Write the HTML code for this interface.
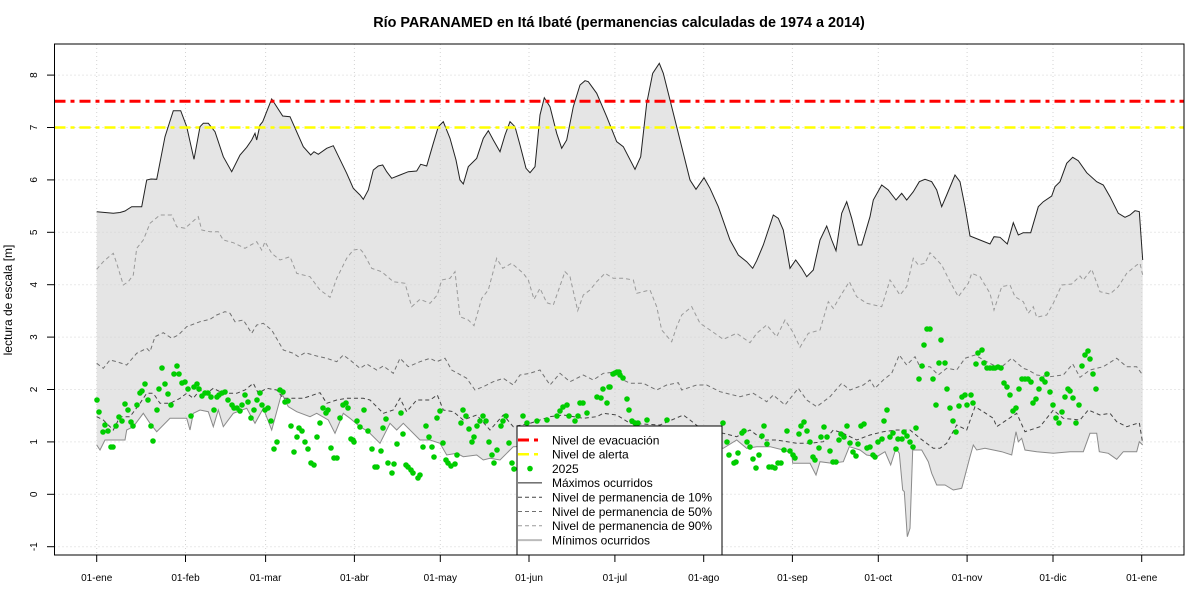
<!DOCTYPE html>
<html><head><meta charset="utf-8"><style>
html,body{margin:0;padding:0;background:#fff;}
svg{display:block;font-family:"Liberation Sans",Arial,sans-serif;}
</style></head><body>
<svg width="1200" height="600" viewBox="0 0 1200 600" xmlns="http://www.w3.org/2000/svg">
<rect width="1200" height="600" fill="#fff"/>
<text x="619" y="27" text-anchor="middle" font-size="14.4" font-weight="bold">Río PARANAMED en Itá Ibaté (permanencias calculadas de 1974 a 2014)</text>

<!-- fill -->
<polygon fill="#e5e5e5" stroke="none" points="96.7,211.7 113.3,213.3 120,212.5 125,211 131.7,206.7 141.7,206.7 146.7,180 151,179 156.7,179.3 165,136.7 173.3,110.7 180.7,110.7 186.7,126.7 194,159.3 200,126.7 203.3,123.3 208.3,123.3 215,131.7 223.3,156.7 231.7,171.7 240,155 246.7,147.3 251.7,140 255,133.3 256.7,140 260,125 262.7,121.7 271.7,99 282.7,116 290,116.7 303.3,146.7 310.7,155 314,151.7 318.3,154.3 326.7,148.3 333.3,145.7 346.7,173.3 353.3,188.3 360,195 363.3,199.3 368.3,190 373.3,170 378.3,166 382.7,165 386.7,171.7 391.7,178.3 400,175 408.3,171.7 416.7,171 420.7,164.3 426.7,166 433.3,143.3 438.3,126.7 443.3,121.7 450,138.3 456,160 460,180 463.3,184 468.3,166.7 476.7,158.3 483.3,138.3 488.3,130.7 493.3,140 500,151.7 505,135 510,121.7 515,126.7 520,145 526,168.3 530,172.7 535,166.7 540,115 544.3,97.7 550,106.7 556.7,133.3 561.7,148.3 566.7,140 573.3,106.7 580,85 585,80.7 588.3,81.7 596.7,93.3 606.7,116.7 616.7,141.7 623.3,146.7 635,169.3 640.7,156.7 646.7,103.3 652.7,73.3 659.3,63.3 663.3,73.3 670,100 681.7,146.7 690,180 696,189.3 704,177.7 710,188.3 718.3,206.7 730,240 738.3,255 746.7,261.7 752.7,268.3 756.7,260.7 763.3,245 773.3,215 778.3,218.3 783.3,230 790,268.3 795.7,260 801.7,268.3 806.7,276.7 813.3,270 820,240 826.7,226 831.7,240 836,250.7 841.7,213.3 846.7,201.7 851.7,218.3 858.3,245 861.7,245 870,216.7 873.3,200 881.7,185 888.3,190 896,200 901.7,193.3 906.7,200 913.3,191.7 919.3,181.7 925,179.3 931.7,181.7 936.7,190 941.7,206.7 946.7,195 955,175 960,181.7 965,206.7 970,236 980,240 990,244 994,236.7 1000,237.3 1007.3,244 1013.3,222.7 1018.3,235 1023.3,232.7 1030.7,232.7 1038.3,206.7 1043.3,201.7 1051.7,196 1055,186.7 1060,181.7 1066.7,163.3 1072.7,157.3 1078.3,160.7 1086.7,172.7 1096.7,181.7 1103.3,185 1110,196.7 1118.3,213.3 1125,217.3 1130,215 1135,210.7 1139.3,211.7 1142.7,260 1142.7,445 1139.3,441.7 1136.7,451.7 1123.3,451.7 1116.7,459.3 1108.3,453.3 1099.3,451.7 1096.7,433.3 1090,433.3 1083.3,451.7 1070,451.7 1053.3,453.3 1036.7,451.7 1025,450 1021.7,438.3 1018.3,441.7 1016,431.7 1011.7,455 1001.7,451.7 985,448.3 976.7,450 973.3,445 970,456.7 961.7,488.3 953.3,490 945,485 936.7,485 931.7,473.3 928.3,461.7 921.7,450 912.7,450 910,528.3 907.3,536.7 904.3,491.7 902.7,490 899.3,453.3 896,448.3 890.7,465 885,451.7 876.7,456.7 866.7,455 860,450 849.3,446.7 843.3,461.7 831.7,463.3 820,461.7 816,475 810,463.3 792.7,463.3 791.7,453.3 783.3,450 770,446.7 756.7,446.7 746.7,448.3 736.7,440 723.3,448.3 680,445 620,445 560,445 513.3,446.7 506.7,453.3 500,460 490,458.3 483.3,460 476.7,455 463.3,456.7 456.7,453.3 446.7,455 440,443.3 430,440 420,440 403.3,423.3 396.7,430 390,423.3 380,443.3 368.3,431.7 360,426.7 350,418.3 343.3,413.3 335,433.3 328.3,420 316.7,413.3 310,416.7 296.7,411.7 288.3,406.7 281.7,393.3 271.7,430 263.3,408.3 255,423.3 246.7,408.3 233.3,413.3 223.3,426.7 218.3,410 213.3,426.7 208.3,411.7 200,410 193.3,413.3 190,430 186.7,418.3 178.3,418.3 170,418.3 156.7,431.7 150,423.3 143.3,413.3 133.3,426.7 126.7,430 125,440 113.3,440 105,440 100,450 96.7,445"/>

<!-- grid -->
<g stroke="#d3d3d3" stroke-width="1" stroke-dasharray="1 3" fill="none">
<line x1="54.5" x2="1184" y1="546.7" y2="546.7"/>
<line x1="54.5" x2="1184" y1="494.3" y2="494.3"/>
<line x1="54.5" x2="1184" y1="441.9" y2="441.9"/>
<line x1="54.5" x2="1184" y1="389.5" y2="389.5"/>
<line x1="54.5" x2="1184" y1="337.1" y2="337.1"/>
<line x1="54.5" x2="1184" y1="284.7" y2="284.7"/>
<line x1="54.5" x2="1184" y1="232.3" y2="232.3"/>
<line x1="54.5" x2="1184" y1="179.9" y2="179.9"/>
<line x1="54.5" x2="1184" y1="127.5" y2="127.5"/>
<line x1="54.5" x2="1184" y1="75.1" y2="75.1"/>
<line y1="44" y2="555" x1="96.7" x2="96.7"/>
<line y1="44" y2="555" x1="185.5" x2="185.5"/>
<line y1="44" y2="555" x1="265.6" x2="265.6"/>
<line y1="44" y2="555" x1="354.4" x2="354.4"/>
<line y1="44" y2="555" x1="440.3" x2="440.3"/>
<line y1="44" y2="555" x1="529" x2="529"/>
<line y1="44" y2="555" x1="614.9" x2="614.9"/>
<line y1="44" y2="555" x1="703.7" x2="703.7"/>
<line y1="44" y2="555" x1="792.4" x2="792.4"/>
<line y1="44" y2="555" x1="878.3" x2="878.3"/>
<line y1="44" y2="555" x1="967.1" x2="967.1"/>
<line y1="44" y2="555" x1="1053" x2="1053"/>
<line y1="44" y2="555" x1="1141.7" x2="1141.7"/>
</g>

<!-- min line -->
<polyline fill="none" stroke="#8a8a8a" stroke-width="1" points="96.7,445 100,450 105,440 113.3,440 125,440 126.7,430 133.3,426.7 143.3,413.3 150,423.3 156.7,431.7 170,418.3 178.3,418.3 186.7,418.3 190,430 193.3,413.3 200,410 208.3,411.7 213.3,426.7 218.3,410 223.3,426.7 233.3,413.3 246.7,408.3 255,423.3 263.3,408.3 271.7,430 281.7,393.3 288.3,406.7 296.7,411.7 310,416.7 316.7,413.3 328.3,420 335,433.3 343.3,413.3 350,418.3 360,426.7 368.3,431.7 380,443.3 390,423.3 396.7,430 403.3,423.3 420,440 430,440 440,443.3 446.7,455 456.7,453.3 463.3,456.7 476.7,455 483.3,460 490,458.3 500,460 506.7,453.3 513.3,446.7 560,445 620,445 680,445 723.3,448.3 736.7,440 746.7,448.3 756.7,446.7 770,446.7 783.3,450 791.7,453.3 792.7,463.3 810,463.3 816,475 820,461.7 831.7,463.3 843.3,461.7 849.3,446.7 860,450 866.7,455 876.7,456.7 885,451.7 890.7,465 896,448.3 899.3,453.3 902.7,490 904.3,491.7 907.3,536.7 910,528.3 912.7,450 921.7,450 928.3,461.7 931.7,473.3 936.7,485 945,485 953.3,490 961.7,488.3 970,456.7 973.3,445 976.7,450 985,448.3 1001.7,451.7 1011.7,455 1016,431.7 1018.3,441.7 1021.7,438.3 1025,450 1036.7,451.7 1053.3,453.3 1070,451.7 1083.3,451.7 1090,433.3 1096.7,433.3 1099.3,451.7 1108.3,453.3 1116.7,459.3 1123.3,451.7 1136.7,451.7 1139.3,441.7 1142.7,445"/>

<!-- 90% -->
<polyline fill="none" stroke="#9a9a9a" stroke-width="1" stroke-dasharray="4 3" points="96.7,269.3 103.3,261.7 108.3,257.3 113.3,253.3 116.7,263.3 123.3,285 128.3,281.7 133.3,275 136.7,248.3 143.3,240 150,223.3 160,215 171.7,215 176.7,226.7 185,228.3 198.3,216.7 201.7,230 210,231.7 218.3,231.7 223.3,240 233.3,242.7 245,248.3 256.7,241.7 261.7,250 265,241.7 271.7,253.3 280,260 290,256.7 296.7,273.3 310,276.7 320,290 330,297.3 336.7,278.3 346.7,258.3 353.3,250 360,249 363.3,252.7 371.7,268.3 381.7,271.7 393.3,281.7 405,283.3 411.7,306.7 420,299.3 430,303.3 437.3,295 441.7,280 450,278.3 455,271.7 460,316.7 468.3,320 474,325.7 481.7,298.3 488.3,290 496.7,258.3 502.7,268.3 511.7,263.3 523.3,273.3 528.3,280 534,299.3 540,288.3 546.7,302.7 553.3,305 565,271.7 570,276.7 577.7,310.7 583.3,295 590,290 596.7,281.7 605,273.3 613.3,278.3 623.3,278.3 633.3,280 636.7,293.3 650,290 656.7,306.7 661.7,330 671.7,341.7 676.7,326.7 681.7,315 691.7,306.7 700,323.3 710,330 723.3,339.3 736.7,333.3 750,342.7 756.7,333.3 766.7,325 776.7,336.7 785,320 792.7,331.7 800,347.3 808.3,333.3 820,330 828.3,301.7 833.3,308.3 840,296.7 849.3,281.7 856.7,296.7 866.7,303.3 881.7,306.7 890,280 900,295 906.7,286.7 913.3,258.3 918.3,265 925,263.3 930,252.7 941.7,265 950,281.7 958.3,296.7 968.3,283.3 971.7,273.3 980,276.7 990,293.3 994,310 1001.7,286.7 1010,285 1015,296.7 1023.3,301.7 1028.3,313.3 1033.3,306.7 1036.7,317.3 1046.7,315 1053.3,303.3 1061.7,285 1071.7,284 1080,276 1083.3,280 1091.7,269.3 1100,291.7 1110,294 1118.3,286.7 1126.7,273.3 1136.7,265 1140,263.3 1142.7,275"/>

<!-- 50% -->
<polyline fill="none" stroke="#707070" stroke-width="1" stroke-dasharray="4 3" points="96.7,363.3 103.3,368.3 110,360 116.7,361.7 126.7,365 136.7,353.3 146.7,348.3 150,351.7 155,336.7 163.3,332.7 171.7,338.3 178.3,335 186.7,326.7 200,321.7 210,319.3 216.7,315 225,311.7 230,313.3 235,321.7 243.3,320 251.7,333.3 256.7,325 263.3,323.3 271.7,330 283.3,350 293.3,353.3 298.3,356.7 305,352.7 316.7,356 326.7,358.3 336.7,361.7 343.3,355 350,360 360,368.3 366.7,364 376.7,370 383.3,366 393.3,373.3 400,358.3 408.3,366.7 420,361.7 430,358.3 436.7,361.7 445,358.3 451.7,370 466.7,378.3 475,390 483.3,386.7 493.3,381.7 503.3,378.3 513.3,385 520,375 530,373.3 540,370 550,385 560,373.3 570,381.7 583.3,375 593.3,380 603.3,373.3 616.7,372 623.3,380 630,383.3 643.3,383.3 656.7,390 666.7,385 678.3,382.7 681.7,390 696.7,385 706.7,385 720,391.7 740,396.7 753.3,393.3 766.7,401.7 773.3,395 785,405 798.3,388.3 806.7,400 816.7,406.7 830,396.7 841.7,383.3 850,390 863.3,385 870,380 875,388.3 883.3,380 891.7,373.3 899.3,355 906.7,365 915,356.7 920,366.7 930,366.7 938.3,375 946.7,368.3 956.7,370 965,358.3 975,355 986.7,361.7 1000,368.3 1011.7,358.3 1023.3,368.3 1028.3,370 1036.7,375 1050,376.7 1063.3,375 1072.7,364 1080,377.3 1090,370 1103.3,366.7 1116.7,358.3 1126.7,366.7 1136.7,366.7 1142.7,375"/>

<!-- 10% -->
<polyline fill="none" stroke="#444" stroke-width="1" stroke-dasharray="4 3" points="96.7,416.7 103.3,420 113.3,430 120,416.7 130,416.7 140,403.3 146.7,393.3 153.3,393.3 160,403.3 170,403.3 180,398.3 186.7,393.3 193.3,398.3 200,390 206.7,393.3 213.3,388.3 223.3,393.3 236.7,393.3 245,390 253.3,383.3 258.3,393.3 266.7,388.3 276.7,390 283.3,398.3 293.3,398.3 303.3,398.3 320,392.7 326.7,403.3 336.7,400 346.7,398.3 356.7,398.3 363.3,398.3 370,400 383.3,413.3 393.3,410 400,398.3 406.7,411.7 416.7,400 430,400 437.3,395 443.3,410 453.3,411.7 463.3,420 476.7,415 490,430 503.3,415 513.3,426.7 530,423.3 550,416.7 563.3,415 583.3,418.3 596.7,416.7 603.3,413.3 616.7,415 630,423.3 660,425 683.3,415 690,420 700,428 723.3,433.3 736.7,436.7 750,430 763.3,440 776.7,440 796.7,443.3 810,443.3 823.3,441.7 833.3,430 843.3,433.3 856.7,440 870,435 883.3,431.7 896.7,430 910,430 920,438.3 933.3,448.3 940,448.3 946.7,443.3 956.7,425 966.7,430 975,406.7 983.3,411.7 993.3,418.3 996.7,426.7 1006.7,420 1016.7,413.3 1025,431.7 1040,426.7 1053.3,410 1063.3,418.3 1080,420 1088.3,410 1100,415 1110,413.3 1116.7,421.7 1126.7,426.7 1139.3,422.7 1142.7,443.3"/>

<!-- max line -->
<polyline fill="none" stroke="#222" stroke-width="1" points="96.7,211.7 113.3,213.3 120,212.5 125,211 131.7,206.7 141.7,206.7 146.7,180 151,179 156.7,179.3 165,136.7 173.3,110.7 180.7,110.7 186.7,126.7 194,159.3 200,126.7 203.3,123.3 208.3,123.3 215,131.7 223.3,156.7 231.7,171.7 240,155 246.7,147.3 251.7,140 255,133.3 256.7,140 260,125 262.7,121.7 271.7,99 282.7,116 290,116.7 303.3,146.7 310.7,155 314,151.7 318.3,154.3 326.7,148.3 333.3,145.7 346.7,173.3 353.3,188.3 360,195 363.3,199.3 368.3,190 373.3,170 378.3,166 382.7,165 386.7,171.7 391.7,178.3 400,175 408.3,171.7 416.7,171 420.7,164.3 426.7,166 433.3,143.3 438.3,126.7 443.3,121.7 450,138.3 456,160 460,180 463.3,184 468.3,166.7 476.7,158.3 483.3,138.3 488.3,130.7 493.3,140 500,151.7 505,135 510,121.7 515,126.7 520,145 526,168.3 530,172.7 535,166.7 540,115 544.3,97.7 550,106.7 556.7,133.3 561.7,148.3 566.7,140 573.3,106.7 580,85 585,80.7 588.3,81.7 596.7,93.3 606.7,116.7 616.7,141.7 623.3,146.7 635,169.3 640.7,156.7 646.7,103.3 652.7,73.3 659.3,63.3 663.3,73.3 670,100 681.7,146.7 690,180 696,189.3 704,177.7 710,188.3 718.3,206.7 730,240 738.3,255 746.7,261.7 752.7,268.3 756.7,260.7 763.3,245 773.3,215 778.3,218.3 783.3,230 790,268.3 795.7,260 801.7,268.3 806.7,276.7 813.3,270 820,240 826.7,226 831.7,240 836,250.7 841.7,213.3 846.7,201.7 851.7,218.3 858.3,245 861.7,245 870,216.7 873.3,200 881.7,185 888.3,190 896,200 901.7,193.3 906.7,200 913.3,191.7 919.3,181.7 925,179.3 931.7,181.7 936.7,190 941.7,206.7 946.7,195 955,175 960,181.7 965,206.7 970,236 980,240 990,244 994,236.7 1000,237.3 1007.3,244 1013.3,222.7 1018.3,235 1023.3,232.7 1030.7,232.7 1038.3,206.7 1043.3,201.7 1051.7,196 1055,186.7 1060,181.7 1066.7,163.3 1072.7,157.3 1078.3,160.7 1086.7,172.7 1096.7,181.7 1103.3,185 1110,196.7 1118.3,213.3 1125,217.3 1130,215 1135,210.7 1139.3,211.7 1142.7,260"/>

<!-- threshold lines -->
<line x1="54.5" x2="1184" y1="101.3" y2="101.3" stroke="#ff0000" stroke-width="3" stroke-dasharray="11 5 4 5"/>
<line x1="54.5" x2="1184" y1="127.5" y2="127.5" stroke="#ffff00" stroke-width="2.5" stroke-dasharray="11 5 4 5"/>

<!-- 2025 dots -->
<g fill="#00cd00">
<circle cx="97" cy="400" r="2.8"/><circle cx="99" cy="412" r="2.8"/><circle cx="105" cy="425" r="2.8"/><circle cx="103" cy="432" r="2.8"/><circle cx="108" cy="431" r="2.8"/><circle cx="111" cy="447" r="2.8"/><circle cx="113" cy="447" r="2.8"/><circle cx="116" cy="426" r="2.8"/><circle cx="119" cy="417" r="2.8"/><circle cx="122" cy="421" r="2.8"/><circle cx="125" cy="404" r="2.8"/><circle cx="128" cy="410" r="2.8"/><circle cx="131" cy="422" r="2.8"/><circle cx="133" cy="426" r="2.8"/><circle cx="137" cy="405" r="2.8"/><circle cx="140" cy="393" r="2.8"/><circle cx="142" cy="391" r="2.8"/><circle cx="145" cy="384" r="2.8"/><circle cx="148" cy="400" r="2.8"/><circle cx="151" cy="426" r="2.8"/><circle cx="153" cy="441" r="2.8"/><circle cx="157" cy="410" r="2.8"/><circle cx="159" cy="389" r="2.8"/><circle cx="162" cy="368" r="2.8"/><circle cx="165" cy="384" r="2.8"/><circle cx="168" cy="394" r="2.8"/><circle cx="171" cy="405" r="2.8"/><circle cx="174" cy="374" r="2.8"/><circle cx="177" cy="366" r="2.8"/><circle cx="179" cy="374" r="2.8"/><circle cx="182" cy="383" r="2.8"/><circle cx="185" cy="382" r="2.8"/><circle cx="188" cy="389" r="2.8"/><circle cx="191" cy="416" r="2.8"/><circle cx="194" cy="387" r="2.8"/><circle cx="197" cy="384" r="2.8"/><circle cx="199" cy="389" r="2.8"/><circle cx="202" cy="396" r="2.8"/><circle cx="205" cy="393" r="2.8"/><circle cx="208" cy="393" r="2.8"/><circle cx="211" cy="397" r="2.8"/><circle cx="214" cy="410" r="2.8"/><circle cx="217" cy="397" r="2.8"/><circle cx="219" cy="395" r="2.8"/><circle cx="222" cy="393" r="2.8"/><circle cx="225" cy="392" r="2.8"/><circle cx="228" cy="400" r="2.8"/><circle cx="232" cy="405" r="2.8"/><circle cx="234" cy="408" r="2.8"/><circle cx="237" cy="408" r="2.8"/><circle cx="240" cy="411" r="2.8"/><circle cx="242" cy="405" r="2.8"/><circle cx="245" cy="395" r="2.8"/><circle cx="248" cy="402" r="2.8"/><circle cx="251" cy="418" r="2.8"/><circle cx="254" cy="410" r="2.8"/><circle cx="257" cy="400" r="2.8"/><circle cx="260" cy="393" r="2.8"/><circle cx="262" cy="405" r="2.8"/><circle cx="265" cy="410" r="2.8"/><circle cx="268" cy="408" r="2.8"/><circle cx="271" cy="421" r="2.8"/><circle cx="274" cy="449" r="2.8"/><circle cx="277" cy="442" r="2.8"/><circle cx="280" cy="390" r="2.8"/><circle cx="283" cy="392" r="2.8"/><circle cx="285" cy="402" r="2.8"/><circle cx="288" cy="401" r="2.8"/><circle cx="291" cy="426" r="2.8"/><circle cx="294" cy="452" r="2.8"/><circle cx="297" cy="437" r="2.8"/><circle cx="299" cy="428" r="2.8"/><circle cx="302" cy="431" r="2.8"/><circle cx="305" cy="442" r="2.8"/><circle cx="308" cy="449" r="2.8"/><circle cx="311" cy="463" r="2.8"/><circle cx="314" cy="465" r="2.8"/><circle cx="317" cy="437" r="2.8"/><circle cx="320" cy="423" r="2.8"/><circle cx="323" cy="408" r="2.8"/><circle cx="326" cy="413" r="2.8"/><circle cx="328" cy="410" r="2.8"/><circle cx="331" cy="448" r="2.8"/><circle cx="334" cy="458" r="2.8"/><circle cx="337" cy="458" r="2.8"/><circle cx="340" cy="418" r="2.8"/><circle cx="343" cy="405" r="2.8"/><circle cx="346" cy="403" r="2.8"/><circle cx="348" cy="408" r="2.8"/><circle cx="351" cy="439" r="2.8"/><circle cx="354" cy="442" r="2.8"/><circle cx="357" cy="421" r="2.8"/><circle cx="360" cy="427" r="2.8"/>
<circle cx="353" cy="440" r="2.8"/><circle cx="364" cy="410" r="2.8"/><circle cx="368" cy="431" r="2.8"/><circle cx="372" cy="449" r="2.8"/><circle cx="375" cy="467" r="2.8"/><circle cx="377" cy="467" r="2.8"/><circle cx="381" cy="451" r="2.8"/><circle cx="383" cy="428" r="2.8"/><circle cx="386" cy="419" r="2.8"/><circle cx="388" cy="463" r="2.8"/><circle cx="392" cy="473" r="2.8"/><circle cx="394" cy="464" r="2.8"/><circle cx="397" cy="444" r="2.8"/><circle cx="401" cy="413" r="2.8"/><circle cx="403" cy="434" r="2.8"/><circle cx="406" cy="465" r="2.8"/><circle cx="408" cy="467" r="2.8"/><circle cx="411" cy="470" r="2.8"/><circle cx="413" cy="473" r="2.8"/><circle cx="418" cy="478" r="2.8"/><circle cx="420" cy="475" r="2.8"/><circle cx="423" cy="447" r="2.8"/><circle cx="426" cy="426" r="2.8"/><circle cx="429" cy="437" r="2.8"/><circle cx="432" cy="447" r="2.8"/><circle cx="434" cy="457" r="2.8"/><circle cx="437" cy="418" r="2.8"/><circle cx="440" cy="411" r="2.8"/><circle cx="443" cy="443" r="2.8"/><circle cx="446" cy="460" r="2.8"/><circle cx="448" cy="463" r="2.8"/><circle cx="451" cy="466" r="2.8"/><circle cx="455" cy="464" r="2.8"/><circle cx="457" cy="455" r="2.8"/><circle cx="461" cy="423" r="2.8"/><circle cx="463" cy="410" r="2.8"/><circle cx="466" cy="416" r="2.8"/><circle cx="469" cy="429" r="2.8"/><circle cx="472" cy="442" r="2.8"/><circle cx="474" cy="437" r="2.8"/><circle cx="477" cy="426" r="2.8"/><circle cx="480" cy="421" r="2.8"/><circle cx="483" cy="416" r="2.8"/><circle cx="486" cy="421" r="2.8"/><circle cx="489" cy="442" r="2.8"/><circle cx="492" cy="455" r="2.8"/><circle cx="494" cy="463" r="2.8"/><circle cx="497" cy="450" r="2.8"/><circle cx="501" cy="426" r="2.8"/><circle cx="503" cy="421" r="2.8"/><circle cx="506" cy="416" r="2.8"/><circle cx="509" cy="443" r="2.8"/><circle cx="512" cy="463" r="2.8"/><circle cx="514" cy="469" r="2.8"/><circle cx="523" cy="416" r="2.8"/><circle cx="527" cy="423" r="2.8"/><circle cx="537" cy="421" r="2.8"/><circle cx="547" cy="420" r="2.8"/><circle cx="557" cy="416" r="2.8"/><circle cx="560" cy="411" r="2.8"/><circle cx="563" cy="407" r="2.8"/><circle cx="567" cy="405" r="2.8"/><circle cx="569" cy="416" r="2.8"/><circle cx="575" cy="421" r="2.8"/><circle cx="578" cy="416" r="2.8"/><circle cx="580" cy="403" r="2.8"/><circle cx="583" cy="403" r="2.8"/><circle cx="587" cy="413" r="2.8"/><circle cx="597" cy="397" r="2.8"/><circle cx="601" cy="398" r="2.8"/><circle cx="603" cy="389" r="2.8"/><circle cx="607" cy="403" r="2.8"/><circle cx="609" cy="387" r="2.8"/><circle cx="613" cy="374" r="2.8"/><circle cx="617" cy="372" r="2.8"/><circle cx="619" cy="372" r="2.8"/>
<circle cx="610" cy="387" r="2.8"/><circle cx="615" cy="373" r="2.8"/><circle cx="620" cy="375" r="2.8"/><circle cx="623" cy="378" r="2.8"/><circle cx="627" cy="399" r="2.8"/><circle cx="629" cy="410" r="2.8"/><circle cx="632" cy="421" r="2.8"/><circle cx="635" cy="423" r="2.8"/><circle cx="638" cy="423" r="2.8"/><circle cx="647" cy="420" r="2.8"/><circle cx="667" cy="420" r="2.8"/><circle cx="723" cy="423" r="2.8"/><circle cx="727" cy="442" r="2.8"/><circle cx="729" cy="455" r="2.8"/><circle cx="734" cy="463" r="2.8"/><circle cx="736" cy="462" r="2.8"/><circle cx="738" cy="453" r="2.8"/><circle cx="742" cy="433" r="2.8"/><circle cx="744" cy="431" r="2.8"/><circle cx="747" cy="442" r="2.8"/><circle cx="750" cy="447" r="2.8"/><circle cx="753" cy="459" r="2.8"/><circle cx="756" cy="468" r="2.8"/><circle cx="759" cy="455" r="2.8"/><circle cx="762" cy="436" r="2.8"/><circle cx="764" cy="426" r="2.8"/><circle cx="767" cy="444" r="2.8"/><circle cx="769" cy="467" r="2.8"/><circle cx="772" cy="467" r="2.8"/><circle cx="775" cy="468" r="2.8"/><circle cx="778" cy="463" r="2.8"/><circle cx="781" cy="463" r="2.8"/><circle cx="784" cy="450" r="2.8"/><circle cx="787" cy="431" r="2.8"/><circle cx="790" cy="451" r="2.8"/><circle cx="793" cy="455" r="2.8"/><circle cx="795" cy="458" r="2.8"/><circle cx="799" cy="434" r="2.8"/><circle cx="801" cy="426" r="2.8"/><circle cx="804" cy="422" r="2.8"/><circle cx="807" cy="431" r="2.8"/><circle cx="810" cy="442" r="2.8"/><circle cx="813" cy="457" r="2.8"/><circle cx="815" cy="460" r="2.8"/><circle cx="819" cy="448" r="2.8"/><circle cx="821" cy="437" r="2.8"/><circle cx="824" cy="427" r="2.8"/><circle cx="827" cy="437" r="2.8"/><circle cx="830" cy="451" r="2.8"/><circle cx="833" cy="462" r="2.8"/><circle cx="836" cy="462" r="2.8"/><circle cx="839" cy="440" r="2.8"/><circle cx="841" cy="434" r="2.8"/><circle cx="844" cy="437" r="2.8"/><circle cx="847" cy="426" r="2.8"/><circle cx="850" cy="443" r="2.8"/><circle cx="853" cy="452" r="2.8"/><circle cx="856" cy="456" r="2.8"/><circle cx="858" cy="444" r="2.8"/><circle cx="861" cy="426" r="2.8"/><circle cx="864" cy="424" r="2.8"/><circle cx="867" cy="448" r="2.8"/>
<circle cx="870" cy="447" r="2.8"/><circle cx="873" cy="455" r="2.8"/><circle cx="875" cy="457" r="2.8"/><circle cx="878" cy="442" r="2.8"/><circle cx="882" cy="439" r="2.8"/><circle cx="884" cy="421" r="2.8"/><circle cx="887" cy="410" r="2.8"/><circle cx="890" cy="437" r="2.8"/><circle cx="893" cy="433" r="2.8"/><circle cx="896" cy="449" r="2.8"/><circle cx="898" cy="439" r="2.8"/><circle cx="902" cy="439" r="2.8"/><circle cx="904" cy="432" r="2.8"/><circle cx="907" cy="436" r="2.8"/><circle cx="910" cy="442" r="2.8"/><circle cx="913" cy="447" r="2.8"/><circle cx="916" cy="428" r="2.8"/><circle cx="919" cy="379" r="2.8"/><circle cx="922" cy="366" r="2.8"/><circle cx="924" cy="345" r="2.8"/><circle cx="927" cy="329" r="2.8"/><circle cx="930" cy="329" r="2.8"/><circle cx="933" cy="379" r="2.8"/><circle cx="936" cy="405" r="2.8"/><circle cx="939" cy="363" r="2.8"/><circle cx="941" cy="340" r="2.8"/><circle cx="945" cy="363" r="2.8"/><circle cx="947" cy="389" r="2.8"/><circle cx="950" cy="408" r="2.8"/><circle cx="953" cy="421" r="2.8"/><circle cx="956" cy="432" r="2.8"/><circle cx="959" cy="406" r="2.8"/><circle cx="962" cy="397" r="2.8"/><circle cx="965" cy="395" r="2.8"/><circle cx="967" cy="405" r="2.8"/><circle cx="971" cy="395" r="2.8"/><circle cx="973" cy="403" r="2.8"/><circle cx="976" cy="364" r="2.8"/><circle cx="978" cy="353" r="2.8"/><circle cx="982" cy="350" r="2.8"/><circle cx="984" cy="363" r="2.8"/><circle cx="987" cy="368" r="2.8"/><circle cx="990" cy="368" r="2.8"/><circle cx="993" cy="368" r="2.8"/><circle cx="995" cy="368" r="2.8"/><circle cx="998" cy="367" r="2.8"/><circle cx="1001" cy="368" r="2.8"/><circle cx="1004" cy="383" r="2.8"/><circle cx="1007" cy="387" r="2.8"/><circle cx="1010" cy="395" r="2.8"/><circle cx="1013" cy="411" r="2.8"/><circle cx="1016" cy="408" r="2.8"/><circle cx="1019" cy="389" r="2.8"/><circle cx="1022" cy="379" r="2.8"/><circle cx="1025" cy="379" r="2.8"/><circle cx="1028" cy="379" r="2.8"/><circle cx="1031" cy="382" r="2.8"/><circle cx="1033" cy="403" r="2.8"/><circle cx="1036" cy="399" r="2.8"/><circle cx="1039" cy="389" r="2.8"/><circle cx="1042" cy="379" r="2.8"/><circle cx="1045" cy="382" r="2.8"/><circle cx="1047" cy="374" r="2.8"/><circle cx="1050" cy="392" r="2.8"/><circle cx="1053" cy="405" r="2.8"/><circle cx="1056" cy="418" r="2.8"/><circle cx="1059" cy="423" r="2.8"/><circle cx="1062" cy="412" r="2.8"/><circle cx="1065" cy="397" r="2.8"/><circle cx="1068" cy="389" r="2.8"/><circle cx="1070" cy="391" r="2.8"/><circle cx="1073" cy="398" r="2.8"/><circle cx="1076" cy="423" r="2.8"/><circle cx="1079" cy="405" r="2.8"/><circle cx="1082" cy="366" r="2.8"/><circle cx="1085" cy="355" r="2.8"/><circle cx="1088" cy="351" r="2.8"/><circle cx="1090" cy="359" r="2.8"/><circle cx="1093" cy="374" r="2.8"/><circle cx="1096" cy="389" r="2.8"/>
</g>

<!-- plot box -->
<rect x="54.5" y="44" width="1129.5" height="511" fill="none" stroke="#000" stroke-width="1"/>

<!-- y axis ticks -->
<g stroke="#000" stroke-width="1">
<line x1="47" x2="54.5" y1="546.7" y2="546.7"/>
<line x1="47" x2="54.5" y1="494.3" y2="494.3"/>
<line x1="47" x2="54.5" y1="441.9" y2="441.9"/>
<line x1="47" x2="54.5" y1="389.5" y2="389.5"/>
<line x1="47" x2="54.5" y1="337.1" y2="337.1"/>
<line x1="47" x2="54.5" y1="284.7" y2="284.7"/>
<line x1="47" x2="54.5" y1="232.3" y2="232.3"/>
<line x1="47" x2="54.5" y1="179.9" y2="179.9"/>
<line x1="47" x2="54.5" y1="127.5" y2="127.5"/>
<line x1="47" x2="54.5" y1="75.1" y2="75.1"/>
<line y1="555" y2="562" x1="96.7" x2="96.7"/>
<line y1="555" y2="562" x1="185.5" x2="185.5"/>
<line y1="555" y2="562" x1="265.6" x2="265.6"/>
<line y1="555" y2="562" x1="354.4" x2="354.4"/>
<line y1="555" y2="562" x1="440.3" x2="440.3"/>
<line y1="555" y2="562" x1="529" x2="529"/>
<line y1="555" y2="562" x1="614.9" x2="614.9"/>
<line y1="555" y2="562" x1="703.7" x2="703.7"/>
<line y1="555" y2="562" x1="792.4" x2="792.4"/>
<line y1="555" y2="562" x1="878.3" x2="878.3"/>
<line y1="555" y2="562" x1="967.1" x2="967.1"/>
<line y1="555" y2="562" x1="1053" x2="1053"/>
<line y1="555" y2="562" x1="1141.7" x2="1141.7"/>
</g>
<g font-size="10" text-anchor="middle" fill="#000">
<text transform="translate(37,546.7) rotate(-90)">-1</text>
<text transform="translate(37,494.3) rotate(-90)">0</text>
<text transform="translate(37,441.9) rotate(-90)">1</text>
<text transform="translate(37,389.5) rotate(-90)">2</text>
<text transform="translate(37,337.1) rotate(-90)">3</text>
<text transform="translate(37,284.7) rotate(-90)">4</text>
<text transform="translate(37,232.3) rotate(-90)">5</text>
<text transform="translate(37,179.9) rotate(-90)">6</text>
<text transform="translate(37,127.5) rotate(-90)">7</text>
<text transform="translate(37,75.1) rotate(-90)">8</text>
<text x="96.7" y="581">01-ene</text>
<text x="185.5" y="581">01-feb</text>
<text x="265.6" y="581">01-mar</text>
<text x="354.4" y="581">01-abr</text>
<text x="440.3" y="581">01-may</text>
<text x="529" y="581">01-jun</text>
<text x="614.9" y="581">01-jul</text>
<text x="703.7" y="581">01-ago</text>
<text x="792.4" y="581">01-sep</text>
<text x="878.3" y="581">01-oct</text>
<text x="967.1" y="581">01-nov</text>
<text x="1053" y="581">01-dic</text>
<text x="1141.7" y="581">01-ene</text>
</g>
<text transform="translate(12,300) rotate(-90)" font-size="12" text-anchor="middle">lectura de escala [m]</text>

<!-- legend -->
<rect x="517" y="426" width="205" height="129" fill="#fff" stroke="#000" stroke-width="1"/>
<line x1="518" x2="542" y1="440" y2="440" stroke="#ff0000" stroke-width="3" stroke-dasharray="11 5 4 5"/>
<line x1="518" x2="542" y1="454.3" y2="454.3" stroke="#ffff00" stroke-width="2.5" stroke-dasharray="11 5 4 5"/>
<circle cx="530" cy="468.6" r="2.8" fill="#00cd00"/>
<line x1="518" x2="542" y1="482.9" y2="482.9" stroke="#222" stroke-width="1"/>
<line x1="518" x2="542" y1="497.2" y2="497.2" stroke="#444" stroke-width="1" stroke-dasharray="4 3"/>
<line x1="518" x2="542" y1="511.5" y2="511.5" stroke="#707070" stroke-width="1" stroke-dasharray="4 3"/>
<line x1="518" x2="542" y1="525.8" y2="525.8" stroke="#9a9a9a" stroke-width="1" stroke-dasharray="4 3"/>
<line x1="518" x2="542" y1="540.1" y2="540.1" stroke="#bbb" stroke-width="2"/>
<g font-size="12" fill="#000">
<text x="552" y="444.3">Nivel de evacuación</text>
<text x="552" y="458.6">Nivel de alerta</text>
<text x="552" y="472.9">2025</text>
<text x="552" y="487.2">Máximos ocurridos</text>
<text x="552" y="501.5">Nivel de permanencia de 10%</text>
<text x="552" y="515.8">Nivel de permanencia de 50%</text>
<text x="552" y="530.1">Nivel de permanencia de 90%</text>
<text x="552" y="544.4">Mínimos ocurridos</text>
</g>
</svg>
</body></html>
